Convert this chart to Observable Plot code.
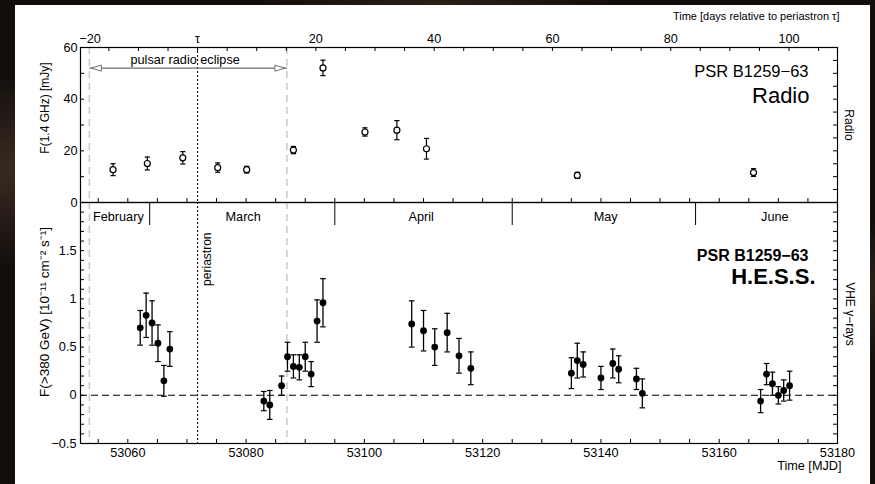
<!DOCTYPE html>
<html>
<head>
<meta charset="utf-8">
<script src="https://cdn.jsdelivr.net/npm/d3@7"></script>
<script src="https://cdn.jsdelivr.net/npm/@observablehq/plot@0.6"></script>
<style>
  html, body { margin: 0; padding: 0; }
  body {
    width: 875px; height: 484px; overflow: hidden; position: relative;
    background:
      radial-gradient(ellipse at 3% 35%, #3a2b20 0, rgba(0,0,0,0) 22%),
      radial-gradient(ellipse at 99% 60%, #2e2219 0, rgba(0,0,0,0) 18%),
      radial-gradient(ellipse at 50% 0%, #2a1f17 0, rgba(0,0,0,0) 30%),
      #120e0b;
    font-family: "Liberation Sans", Arial, Helvetica, sans-serif;
  }
  #sheet { position: absolute; left: 15px; top: 5px; width: 855px; height: 479px; background: #fff; }
  #chart svg { position: absolute; left: 0; top: 0; overflow: visible; }
</style>
</head>
<body>
<div id="sheet"></div>
<div id="chart"></div>
<script>
// PSR B1259-63 around the 2004 periastron: radio flux and H.E.S.S. VHE flux

// Radio (1.4 GHz) flux densities, mJy
const radioMjd  = [53057.5, 53063.3, 53069.3, 53075.2, 53080.1, 53088.0, 53093.0, 53100.1, 53105.5, 53110.5, 53136.0, 53165.8];
const radioFlux = [12.7, 15.1, 17.3, 13.5, 12.7, 20.3, 52.1, 27.3, 28.0, 20.8, 10.5, 11.6];
const radioErr  = [2.3, 2.5, 2.4, 1.8, 1.3, 1.4, 3.0, 1.6, 3.7, 4.0, 1.2, 1.5];

// H.E.S.S. nightly fluxes above 380 GeV, 1e-11 cm^-2 s^-1
const hessMjd  = [53062.1, 53063.1, 53064.1, 53065.1, 53066.1, 53067.1,
                  53083.0, 53084.0, 53086.0, 53087.0, 53088.0, 53089.0, 53090.0, 53091.0, 53092.0, 53093.0,
                  53108.0, 53110.0, 53111.9, 53114.0, 53116.0, 53118.0,
                  53135.0, 53136.0, 53137.0, 53140.0, 53142.0, 53143.0, 53146.0, 53147.0,
                  53167.0, 53168.0, 53169.0, 53170.0, 53170.9, 53171.9];
const hessFlux = [0.70, 0.83, 0.75, 0.54, 0.15, 0.48,
                  -0.06, -0.10, 0.10, 0.40, 0.30, 0.29, 0.40, 0.22, 0.77, 0.96,
                  0.74, 0.67, 0.50, 0.65, 0.41, 0.28,
                  0.23, 0.36, 0.32, 0.18, 0.33, 0.27, 0.17, 0.02,
                  -0.06, 0.22, 0.12, 0.00, 0.05, 0.10];
const hessErr  = [0.18, 0.23, 0.23, 0.19, 0.16, 0.18,
                  0.10, 0.15, 0.10, 0.15, 0.12, 0.13, 0.15, 0.13, 0.22, 0.25,
                  0.24, 0.21, 0.19, 0.20, 0.18, 0.17,
                  0.16, 0.18, 0.13, 0.12, 0.15, 0.14, 0.11, 0.15,
                  0.12, 0.11, 0.12, 0.09, 0.11, 0.15];

// Orbit epochs (MJD)
const tau = 53071.8;                 // periastron
const eclipse = [53053.5, 53086.9];  // pulsar radio eclipse
const eclipseLevel = 52;             // mJy, height of the eclipse arrow

// Calendar
const monthEdges = [53063.7, 53095, 53125, 53156];
const monthNames = ["February", "March", "April", "May", "June"];
const monthMid   = [53058.4, 53079.5, 53109.6, 53140.8, 53169.4];

// Tick labels
const mjdLabels   = [53060, 53080, 53100, 53120, 53140, 53160, 53180];
const relLabels   = [-20, 0, 20, 40, 60, 80, 100];
const radioLabels = [0, 20, 40, 60];
const hessLabels  = [-0.5, 0, 0.5, 1, 1.5];

// Layout
const W = 875, H = 484, mL = 80, mR = 38;
const frameW = W - mL - mR;
const xDomain = [53052, 53180];
const upper = {top: 47, bottom: 202};
const lower = {top: 202, bottom: 443};
const font = "'Liberation Sans', Arial, Helvetica, sans-serif";

const radio = radioMjd.map((m, i) => ({mjd: m, v: radioFlux[i], lo: radioFlux[i] - radioErr[i], hi: radioFlux[i] + radioErr[i]}));
const hess  = hessMjd.map((m, i) => ({mjd: m, v: hessFlux[i], lo: hessFlux[i] - hessErr[i], hi: hessFlux[i] + hessErr[i]}));

// small glyphs: error-bar caps and the eclipse arrowheads
const cap = {draw(ctx, size) { const r = Math.sqrt(size / Math.PI); ctx.moveTo(-r, 0); ctx.lineTo(r, 0); }};
const headL = {draw(ctx) { ctx.moveTo(0, 0); ctx.lineTo(10, -3); ctx.lineTo(10, 3); ctx.closePath(); }};
const headR = {draw(ctx) { ctx.moveTo(0, 0); ctx.lineTo(-10, -3); ctx.lineTo(-10, 3); ctx.closePath(); }};

// inward tick helpers
const ticksUp    = (vals, fh, len) => Plot.tickX(vals, {x: d => d, insetTop: fh - len, stroke: "#000"});
const ticksDown  = (vals, fh, len) => Plot.tickX(vals, {x: d => d, insetBottom: fh - len, stroke: "#000"});
const ticksFromL = (vals, len) => Plot.tickY(vals, {y: d => d, insetRight: frameW - len, stroke: "#000"});
const ticksFromR = (vals, len) => Plot.tickY(vals, {y: d => d, insetLeft: frameW - len, stroke: "#000"});

const mjdMinor = d3.range(53055, 53180, 5);
const relMinor = d3.range(-15, 106, 5).map(d => tau + d);
const relText = d => d === 0 ? "τ" : d < 0 ? "−" + (-d) : String(d);

const style = {fontFamily: font, fontSize: "12.7px", background: "transparent", overflow: "visible", color: "#000"};

const upH = upper.bottom - upper.top;
const loH = lower.bottom - lower.top;

const radioPlot = Plot.plot({
  width: W, height: H,
  marginLeft: mL, marginRight: mR, marginTop: upper.top, marginBottom: H - upper.bottom,
  x: {domain: xDomain, axis: null},
  y: {domain: [0, 60], axis: null},
  style,
  marks: [
    Plot.ruleX(eclipse, {x: d => d, stroke: "#c8c8c8", strokeWidth: 1.5, strokeDasharray: "7,5"}),
    Plot.ruleX([tau], {x: d => d, stroke: "#000", strokeWidth: 1, strokeDasharray: "2,2"}),
    // eclipse arrow
    Plot.link([{x1: eclipse[0], x2: eclipse[1], y: eclipseLevel}], {x1: "x1", x2: "x2", y1: "y", y2: "y", stroke: "#6f6f6f", strokeWidth: 1.2}),
    Plot.dot([{x: eclipse[0], y: eclipseLevel}], {x: "x", y: "y", symbol: headL, r: 3, stroke: "#6f6f6f", fill: "#fff", strokeWidth: 1, dx: 2}),
    Plot.dot([{x: eclipse[1], y: eclipseLevel}], {x: "x", y: "y", symbol: headR, r: 3, stroke: "#6f6f6f", fill: "#fff", strokeWidth: 1, dx: -2}),
    Plot.text(["pulsar radio eclipse"], {x: () => d3.mean(eclipse), y: () => eclipseLevel, text: d => d, dx: -3, dy: -8, fill: "#000"}),
    // data
    Plot.ruleX(radio, {x: "mjd", y1: "lo", y2: "hi", stroke: "#000", strokeWidth: 1.2}),
    Plot.dot(radio, {x: "mjd", y: "hi", symbol: cap, r: 2.6, stroke: "#000", strokeWidth: 1.2}),
    Plot.dot(radio, {x: "mjd", y: "lo", symbol: cap, r: 2.6, stroke: "#000", strokeWidth: 1.2}),
    Plot.dot(radio, {x: "mjd", y: "v", r: 3, stroke: "#000", fill: "#fff", strokeWidth: 1.2}),
    // frame and ticks
    Plot.frame({stroke: "#000", strokeWidth: 1.2}),
    ticksDown(relMinor, upH, 4),
    ticksUp(mjdMinor, upH, 4),
    ticksFromL(d3.range(0, 61, 10), 4),
    ticksFromR(d3.range(0, 61, 5), 4),
    Plot.axisY({ticks: radioLabels, tickSize: 0, tickPadding: 3, label: null}),
    // relative-time axis along the top edge
    Plot.text(relLabels.filter(d => tau + d < xDomain[0]), {x: d => tau + d, text: relText,
      textAnchor: "start", frameAnchor: "top", lineAnchor: "bottom", dy: -5}),
    Plot.text(relLabels.filter(d => tau + d >= xDomain[0]), {x: d => tau + d, text: relText,
      textAnchor: "middle", frameAnchor: "top", lineAnchor: "bottom", dy: -5}),
    Plot.text(["Time [days relative to periastron τ]"], {text: d => d, frameAnchor: "top-right", textAnchor: "end", lineAnchor: "bottom", dx: 2, dy: -28, fontSize: 11}),
    Plot.text(["F(1.4 GHz) [mJy]"], {text: d => d, frameAnchor: "left", textAnchor: "middle", rotate: -90, dx: -35, dy: -17, fontSize: 12}),
    Plot.text(["Radio"], {text: d => d, frameAnchor: "right", textAnchor: "middle", rotate: 90, dx: 11, fontSize: 12}),
    Plot.text(["PSR B1259−63"], {text: d => d, frameAnchor: "top-right", textAnchor: "end", lineAnchor: "bottom", dx: -29, dy: 29, fontSize: 16.5}),
    Plot.text(["Radio"], {text: d => d, frameAnchor: "top-right", textAnchor: "end", lineAnchor: "bottom", dx: -28, dy: 55, fontSize: 22})
  ]
});

const hessPlot = Plot.plot({
  width: W, height: H,
  marginLeft: mL, marginRight: mR, marginTop: lower.top, marginBottom: H - lower.bottom,
  x: {domain: xDomain, axis: null},
  y: {domain: [-0.5, 2], axis: null},
  style,
  marks: [
    Plot.ruleX(eclipse, {x: d => d, stroke: "#c8c8c8", strokeWidth: 1.5, strokeDasharray: "7,5"}),
    Plot.ruleX([tau], {x: d => d, stroke: "#000", strokeWidth: 1, strokeDasharray: "2,2"}),
    Plot.ruleY([0], {y: d => d, stroke: "#000", strokeWidth: 1.1, strokeDasharray: "7,4"}),
    Plot.text(["periastron"], {x: () => tau, text: d => d, frameAnchor: "top", rotate: -90, textAnchor: "end", lineAnchor: "middle", dx: 10, dy: 30, fontSize: 12}),
    // months
    ticksDown(monthEdges, loH, 23),
    Plot.text(monthNames, {x: (d, i) => monthMid[i], text: d => d, frameAnchor: "top", lineAnchor: "middle", dy: 14}),
    // data
    Plot.ruleX(hess, {x: "mjd", y1: "lo", y2: "hi", stroke: "#000", strokeWidth: 1.3}),
    Plot.dot(hess, {x: "mjd", y: "hi", symbol: cap, r: 2.8, stroke: "#000", strokeWidth: 1.2}),
    Plot.dot(hess, {x: "mjd", y: "lo", symbol: cap, r: 2.8, stroke: "#000", strokeWidth: 1.2}),
    Plot.dot(hess, {x: "mjd", y: "v", r: 3.4, fill: "#000"}),
    // frame and ticks
    Plot.frame({stroke: "#000", strokeWidth: 1.2}),
    ticksUp(mjdMinor, loH, 4),
    ticksFromL(d3.range(-0.5, 2.001, 0.1), 4),
    ticksFromR(d3.range(-0.5, 2.001, 0.1), 4),
    Plot.axisY({ticks: hessLabels, tickSize: 0, tickPadding: 4, label: null, tickFormat: d => d < 0 ? "−" + (-d) : String(d)}),
    Plot.axisX({ticks: mjdLabels, tickSize: 0, tickPadding: 4, label: null, tickFormat: d => String(d)}),
    Plot.text(["Time [MJD]"], {text: d => d, frameAnchor: "bottom-right", textAnchor: "end", lineAnchor: "bottom", dx: 4, dy: 26}),
    Plot.text(["F(>380 GeV) [10⁻¹¹ cm⁻² s⁻¹]"], {text: d => d, frameAnchor: "left", textAnchor: "middle", rotate: -90, dx: -35.5, dy: -11, fontSize: 13.5}),
    Plot.text(["VHE γ−rays"], {text: d => d, frameAnchor: "right", textAnchor: "middle", rotate: 90, dx: 12, dy: -9, fontSize: 12}),
    Plot.text(["PSR B1259−63"], {text: d => d, frameAnchor: "top-right", textAnchor: "end", lineAnchor: "bottom", dx: -29, dy: 58, fontSize: 16, fontWeight: "bold"}),
    Plot.text(["H.E.S.S."], {text: d => d, frameAnchor: "top-right", textAnchor: "end", lineAnchor: "bottom", dx: -22, dy: 81, fontSize: 22, fontWeight: "bold"})
  ]
});

const chart = document.getElementById("chart");
chart.append(radioPlot, hessPlot);
</script>
</body>
</html>
